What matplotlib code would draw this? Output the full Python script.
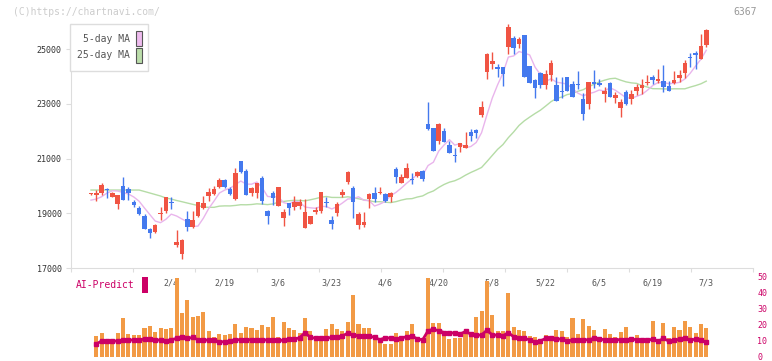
import matplotlib
matplotlib.use("Agg")
import matplotlib.pyplot as plt
import numpy as np
import pandas as pd
from matplotlib.patches import Rectangle

W, H = 772, 361

# daily candles (oldest first)
opens = [19700, 19678, 19729, 19890, 19605, 19327, 19995, 19875, 19422, 19203,
         18910, 18425, 18326, 18962, 19082, 19422, 17840, 17522, 18790, 18509,
         18910, 19181, 19641, 19703, 19970, 20215, 19886, 19521, 20909, 20555,
         19729, 19750, 20276, 19082, 19750, 19265, 18837, 19363, 19240, 19283,
         18472, 18607, 19057, 19082, 19395, 18753, 19020, 19667, 20142, 19911,
         18571, 18571, 19510, 19750, 19729, 19703, 19605, 20616, 20116, 20299,
         20245, 20361, 20543, 22260, 22125, 21650, 22005, 21493, 21100, 21409,
         21373, 21957, 22041, 22600, 24171, 24452, 24330, 24330, 25087, 25391,
         25183, 25511, 24380, 23868, 24112, 23685, 24050, 23685, 23440, 23988,
         23722, 23700, 23173, 23002, 23795, 23770, 23375, 23770, 23221, 22856,
         23430, 23185, 23477, 23563, 23770, 23977, 23843, 23831, 23650, 23770,
         23941, 24112, 24700, 24865, 24635, 25146]
highs = [19750, 19849, 20105, 19933, 19786, 19667, 20335, 19948, 19484, 19265,
         18973, 18472, 18607, 19228, 19594, 19594, 18388, 18059, 19082, 19082,
         19422, 19641, 19933, 19995, 20276, 20240, 19970, 20642, 20909, 20620,
         19970, 20105, 20361, 19119, 19813, 19959, 19144, 19386, 19630, 19510,
         19510, 18900, 19240, 19776, 19583, 18910, 19422, 19897, 20543, 19995,
         19057, 19057, 19750, 19959, 19959, 19750, 19787, 20678, 20434, 20847,
         20481, 20530, 20580, 23075, 22125, 22308, 22103, 21639, 21373, 21577,
         21957, 22078, 22078, 23100, 24865, 24880, 24452, 24355, 25917, 25475,
         25450, 25511, 24380, 23893, 24171, 24233, 24598, 23966, 23966, 23988,
         23831, 24208, 23380, 23795, 24233, 23904, 23612, 23795, 23440, 23173,
         23502, 23502, 23722, 23893, 24050, 24050, 24270, 24416, 23831, 24196,
         24233, 24598, 24865, 24928, 25548, 25730]
lows = [19680, 19458, 19667, 19575, 19605, 19155, 19484, 19484, 19217, 18936,
        18425, 18107, 18268, 18753, 18998, 19155, 17778, 17340, 18352, 18472,
        18881, 19155, 19458, 19667, 19922, 19922, 19667, 19484, 20481, 19667,
        19641, 19546, 19327, 18607, 19301, 19265, 18534, 18936, 19119, 19155,
        18472, 18607, 18962, 18998, 19240, 18425, 18910, 19605, 20080, 18816,
        18414, 18509, 19203, 19422, 19692, 19422, 19422, 20116, 20116, 20299,
        20069, 20340, 20178, 22041, 21274, 21530, 21614, 21212, 20883, 21248,
        21373, 21650, 21760, 22505, 23904, 24270, 23988, 23660, 24806, 24806,
        25048, 23988, 23745, 23221, 23575, 23550, 23831, 23111, 23197, 23477,
        23258, 23540, 22400, 22820, 23587, 23650, 23075, 23258, 23016, 22516,
        22966, 23002, 23320, 23356, 23673, 23733, 23770, 23440, 23477, 23710,
        23806, 23952, 24330, 24260, 24635, 25062]
closes = [19720, 19750, 20032, 19860, 19750, 19667, 19484, 19750, 19320, 18973,
          18425, 18290, 18571, 19020, 19594, 19363, 17950, 18023, 18509, 18753,
          19422, 19386, 19787, 19886, 20215, 19970, 19703, 20481, 20519, 19667,
          19933, 20105, 19458, 18910, 19575, 19959, 19046, 19203, 19422, 19422,
          19046, 18900, 19119, 19776, 19380, 18607, 19338, 19776, 20507, 19422,
          18973, 18691, 19718, 19521, 19776, 19448, 19729, 20335, 20313, 20664,
          20230, 20507, 20240, 22078, 21274, 22271, 21614, 21212, 21080, 21577,
          21493, 21833, 21943, 22870, 24817, 24562, 24270, 24087, 25796, 25026,
          25365, 23988, 23745, 23575, 23673, 24087, 24501, 23111, 23420, 23477,
          23258, 23680, 22625, 23795, 23733, 23685, 23477, 23258, 23320, 23064,
          23002, 23356, 23624, 23685, 23806, 23868, 23904, 23624, 23477, 23868,
          24050, 24501, 24680, 24792, 25110, 25694]

# moving averages before enough history is on the chart
ma5_head = [19480, 19520, 19605, 19740]
ma25_head = [19849, 19849, 19849, 19849, 19849, 19849, 19849, 19849, 19849, 19849,
             19795, 19740, 19685, 19630, 19557, 19520, 19466, 19422, 19374, 19327,
             19283, 19228, 19217, 19217]

# volume and AI-Predict, from the 2nd candle on
vol = [13.2, 14.9, 10.6, 10.6, 14.9, 24.2, 14.3, 13.7, 13.7, 18.0,
       19.3, 15.9, 18.2, 17.4, 18.2, 49.1, 27.5, 35.4, 25.0, 25.4,
       28.2, 16.4, 12.6, 14.3, 13.9, 14.3, 20.7, 15.1, 18.6, 18.2,
       16.8, 20.1, 18.9, 25.0, 12.4, 21.7, 18.2, 16.8, 15.1, 24.2,
       16.0, 12.4, 12.4, 17.4, 20.7, 17.4, 16.2, 21.9, 38.7, 20.5,
       18.0, 18.0, 13.9, 8.9, 8.1, 8.1, 14.9, 12.2, 16.2, 20.5,
       10.1, 10.1, 49.1, 21.3, 21.3, 13.9, 11.2, 11.8, 11.8, 14.9,
       13.9, 24.8, 28.6, 47.2, 26.1, 16.2, 16.2, 39.8, 18.6, 16.8,
       16.2, 13.2, 12.4, 11.2, 13.7, 11.2, 16.8, 16.2, 12.4, 24.2,
       14.3, 23.6, 19.3, 16.8, 11.2, 17.4, 14.3, 12.4, 15.9, 18.6,
       11.2, 13.7, 11.2, 10.6, 22.4, 11.2, 21.1, 11.8, 18.6, 16.8,
       22.4, 18.6, 14.9, 20.5, 18.0]
ai = [8.1, 10.1, 10.1, 10.1, 9.9, 10.6, 10.6, 10.6, 10.6, 11.2,
      11.2, 10.6, 10.6, 10.1, 10.8, 11.6, 12.8, 11.6, 12.2, 10.8,
      10.8, 10.4, 10.4, 9.5, 9.5, 10.1, 10.8, 10.8, 10.8, 10.8,
      10.4, 10.4, 10.8, 10.8, 10.4, 10.4, 11.2, 11.2, 12.0, 15.3,
      12.2, 11.8, 11.8, 11.8, 12.2, 12.6, 13.2, 14.9, 13.7, 13.2,
      13.2, 13.2, 12.2, 10.8, 12.0, 11.8, 11.2, 12.0, 12.6, 13.2,
      11.2, 10.8, 16.4, 17.4, 16.4, 15.3, 14.7, 15.3, 14.3, 16.0,
      14.3, 13.7, 13.7, 16.8, 13.7, 13.7, 13.2, 15.3, 12.6, 11.6,
      11.6, 10.8, 9.1, 10.1, 11.6, 11.8, 11.2, 11.2, 9.9, 10.6,
      10.6, 10.6, 10.8, 11.6, 11.2, 10.8, 10.8, 10.8, 10.8, 10.8,
      11.2, 10.8, 10.8, 10.4, 11.2, 9.8, 11.6, 9.9, 10.6, 11.0,
      11.6, 10.8, 11.0, 10.4, 9.1]

date_pos = [15, 25, 35, 45, 55, 65, 75, 85, 95, 105, 115]
date_labels = ["2/4", "2/19", "3/6", "3/23", "4/6", "4/20", "5/8", "5/22", "6/5", "6/19", "7/3"]
price_ticks = [17000, 19000, 21000, 23000, 25000]
vol_ticks = [0, 10, 20, 30, 40, 50]

UP, DOWN = "#f05443", "#4479ee"
MA5_C, MA25_C = "#e9b5ec", "#b5dca6"
VOL_C, AI_C = "#f29a45", "#cc0066"
FONT = "DejaVu Sans Mono"

cl = pd.Series(closes, dtype=float)
ma5 = cl.rolling(5).mean().values
ma5[:4] = ma5_head
ma25 = cl.rolling(25).mean().values
ma25[:24] = ma25_head


def fx(x):
    return x / W


def fy(y):
    return 1 - y / H


# pixel layout: candle i at 91 + 5.35*i, plot area 71..753
step, x0 = 5.35, 91
xl, xr = (71 - x0) / step, (753 - x0) / step

fig = plt.figure(figsize=(W / 100, H / 100), dpi=100)
ax = fig.add_axes([fx(71), fy(268), (753 - 71) / W, (268 - 24) / H])
ax.set_xlim(xl, xr)
ax.set_ylim(17000, 25915)

n = len(closes)
x = np.arange(n)
o, c = np.array(opens), np.array(closes)
cols = [UP if cc >= oo else DOWN for oo, cc in zip(o, c)]
ax.plot(x, ma25, color=MA25_C, lw=1, zorder=1)
ax.plot(x, ma5, color=MA5_C, lw=1, zorder=1)
ax.vlines(x, lows, highs, colors=cols, lw=1, zorder=2)
body = np.maximum(np.abs(c - o), 40)
ax.bar(x, body, bottom=np.minimum(o, c), width=0.85, color=cols, zorder=3)

for s in ["top", "right"]:
    ax.spines[s].set_visible(False)
for s in ["left", "bottom"]:
    ax.spines[s].set_color("#dddddd")
ax.set_yticks(price_ticks)
ax.set_yticklabels([str(p) for p in price_ticks], fontsize=6, family=FONT, color="#333333")
ax.tick_params(axis="y", length=3.6, color="#dddddd", pad=3)
tick_px = [71 + 62 * k for k in range(12)]
ax.set_xticks([(p - x0) / step for p in tick_px])
ax.set_xticklabels([])
ax.tick_params(axis="x", which="major", length=3, color="#dddddd")
ax.set_xticks(date_pos, minor=True)
ax.set_xticklabels(date_labels, minor=True, fontsize=6, family=FONT, color="#555555")
ax.tick_params(axis="x", which="minor", length=0, pad=7.6)

# lower panel
ax2 = fig.add_axes([fx(71), fy(357), (753 - 71) / W, (357 - 277) / H])
ax2.set_facecolor("none")
ax2.set_xlim(xl, xr)
ax2.set_ylim(0, 50)
xv = np.arange(1, n)
ax2.bar(xv, vol, width=0.75, color=VOL_C, zorder=2)
ax2.plot(xv, ai, color=AI_C, lw=2, marker="s", ms=2.2, zorder=3)
for s in ax2.spines.values():
    s.set_visible(False)
ax2.set_xticks([])
ax2.yaxis.tick_right()
ax2.set_yticks(vol_ticks)
ax2.set_yticklabels([str(v) for v in vol_ticks], fontsize=6, family=FONT, color=AI_C)
ax2.tick_params(axis="y", length=0, pad=3)

# legend box
fig.patches.append(Rectangle((fx(70), fy(71)), (148 - 70) / W, (71 - 24) / H, transform=fig.transFigure,
                             fc="white", ec="#dddddd", lw=1, zorder=5))
fig.patches.append(Rectangle((fx(136), fy(46)), 6 / W, 15 / H, transform=fig.transFigure,
                             fc="#eebbee", ec="#555555", lw=0.8, zorder=6))
fig.patches.append(Rectangle((fx(136), fy(63)), 6 / W, 15 / H, transform=fig.transFigure,
                             fc="#bbddaa", ec="#555555", lw=0.8, zorder=6))
fig.text(fx(130), fy(38.5), "5-day MA", ha="right", va="center", fontsize=7, family=FONT, color="#555555", zorder=7)
fig.text(fx(130), fy(55.5), "25-day MA", ha="right", va="center", fontsize=7, family=FONT, color="#555555", zorder=7)

# AI-Predict label
fig.text(fx(76), fy(285.5), "AI-Predict", ha="left", va="center", fontsize=7, family=FONT, color=AI_C)
fig.patches.append(Rectangle((fx(142), fy(293)), 6 / W, 16 / H, transform=fig.transFigure,
                             fc=AI_C, ec="none", zorder=6))

fig.text(fx(13), fy(12), "(C)https://chartnavi.com/", ha="left", va="center", fontsize=7, family=FONT, color="#cccccc")
fig.text(fx(757), fy(12), "6367", ha="right", va="center", fontsize=7, family=FONT, color="#999999")

fig.savefig("out.png", dpi=100)
